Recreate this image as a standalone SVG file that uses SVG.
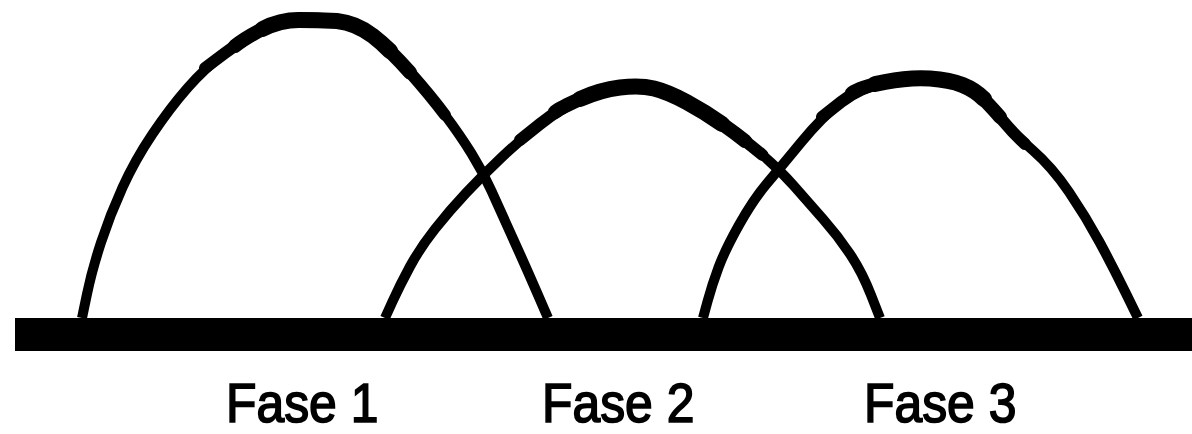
<svg xmlns="http://www.w3.org/2000/svg" width="1192" height="434" viewBox="0 0 1192 434">
<style>
.arc{fill:none;stroke:#000;stroke-width:10;stroke-linejoin:round;stroke-linecap:butt}
.t1{fill:none;stroke:#000;stroke-width:12;stroke-linejoin:round;stroke-linecap:round}
.t2{fill:none;stroke:#000;stroke-width:14;stroke-linejoin:round;stroke-linecap:round}
.t3{fill:none;stroke:#000;stroke-width:16;stroke-linejoin:round;stroke-linecap:round}
.lbl{font-family:"Liberation Sans",Arial,sans-serif;font-size:56px;fill:#000;stroke:#000;stroke-width:1.7}
</style>
<rect width="1192" height="434" fill="#fff"/>
<g id="connectors">
<path id="arc1" class="arc" d="M82,318 L87,294 Q92,270 101,242.5 Q110,215 122.5,187.5 Q135,160 152.5,134 Q170,108 187.5,88 Q205,68 225,53 Q245,38 262.5,29 Q280,20 299,19 Q318,18 337,20 Q356,22 373,36 Q390,50 410,72.5 Q430,95 445,115 Q460,135 471.5,153.5 Q483,172 491.5,191 Q500,210 512.5,237.5 Q525,265 536.5,291.5 L548,318"/>
<path class="t1" d="M205,68 Q225,53 225,53 Q245,38 262.5,29 Q280,20 299,19 Q318,18 337,20 Q356,22 373,36 Q390,50 410,72.5 Q430,95 445,115"/>
<path class="t2" d="M235,46 Q245,38 262.5,29 Q280,20 299,19.5 Q318,19 337,21 Q356,23 373,36 Q390,50 410,72.5"/>
<path class="t3" d="M262.5,29 Q280,20 299,20 Q318,20 337,21 Q356,23 373,36 Q382,43 390,51"/>
<path id="arc2" class="arc" d="M385,318 L392.5,301.5 Q400,285 410,266.5 Q420,248 435,229 Q450,210 466.5,192.5 Q483,175 501.5,157.5 Q520,140 540,124 Q560,108 580,99 Q600,90 620,87.5 Q640,85 654,88.5 Q668,92 686.5,102 Q705,112 725,126 Q745,140 762.5,155 Q780,170 794,186 Q808,202 823,219 Q838,236 850,254 Q862,272 871,295 L880,318"/>
<path class="t1" d="M520,140 Q540,124 540,124 Q560,108 580,99 Q600,90 620,87.5 Q640,85 654,88.5 Q668,92 686.5,102 Q705,112 725,126 Q745,140 762.5,155"/>
<path class="t2" d="M555,112 Q560,108 580,99 Q600,90 620,87.5 Q640,85 654,88.5 Q668,92 686.5,102 Q705,112 725,126 Q735,133 745,141"/>
<path class="t3" d="M580,99 Q600,90 620,87.5 Q640,85 654,88.5 Q668,92 686.5,102 Q705,112 722,124"/>
<path id="arc3" class="arc" d="M703,318 L707.5,301.5 Q712,285 718.5,267.5 Q725,250 739,225 Q753,200 766.5,184 Q780,168 801,142.5 Q822,117 841,102 Q860,87 885,82 Q910,77 930,78.5 Q950,80 962.5,85 Q975,90 984.5,100 Q994,110 1003.5,121.5 Q1013,133 1032.5,150 Q1052,167 1069,192 Q1086,217 1099.5,242 Q1113,267 1125.5,292.5 L1138,318"/>
<path class="t1" d="M822,117 Q841,102 841,102 Q860,87 885,82 Q910,77 930,78.5 Q950,80 962.5,85 Q975,90 984.5,100 Q994,110 1003.5,121.5 Q1013,133 1025,144"/>
<path class="t2" d="M852,93 Q860,87 885,82 Q910,77 930,78.5 Q950,80 962.5,85 Q975,90 984.5,100 Q994,110 1000,117"/>
<path class="t3" d="M875,84 Q885,82 885,82 Q910,77 930,78.5 Q950,80 962.5,85 Q975,90 984,99"/>
</g>
<g id="baseline">
<rect x="15" y="318" width="1177" height="33" fill="#000"/>
</g>
<g id="fase1"><text class="lbl" transform="translate(226,422) scale(0.89,1)">Fase 1</text></g>
<g id="fase2"><text class="lbl" transform="translate(542,422) scale(0.89,1)">Fase 2</text></g>
<g id="fase3"><text class="lbl" transform="translate(864,422) scale(0.89,1)">Fase 3</text></g>
</svg>
